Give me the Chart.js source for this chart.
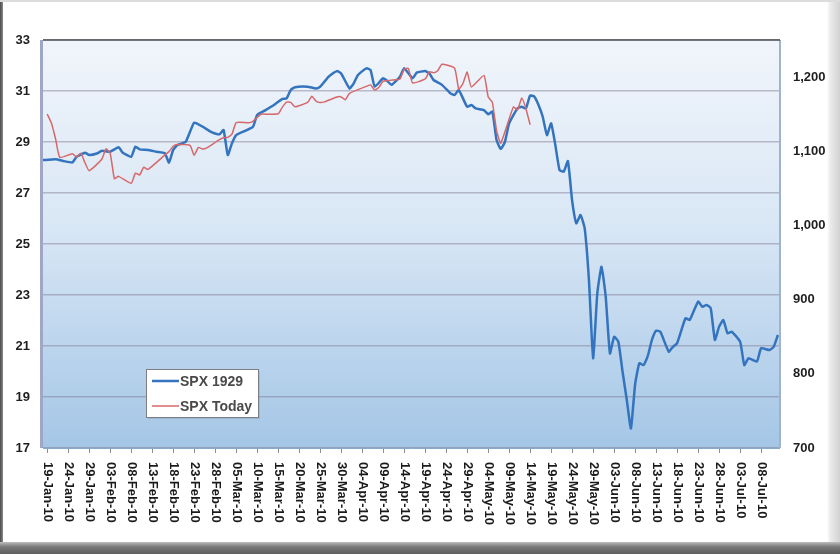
<!DOCTYPE html>
<html>
<head>
<meta charset="utf-8">
<script src="https://cdn.jsdelivr.net/npm/chart.js@4.4.1/dist/chart.umd.min.js"></script>
<style>
html,body{margin:0;padding:0;background:#fff;}
#frame{position:relative;width:840px;height:554px;overflow:hidden;
  background:linear-gradient(to right,#ffffff 0,#ffffff 827px,#ececec 830px,#d2d2d2 840px);}
#leftEdge{position:absolute;left:0;top:0;width:3px;height:554px;background:linear-gradient(to right,#4a4a4a,#8a8a8a);}
#topEdge{position:absolute;left:0;top:0;width:840px;height:2px;background:#dcdcdc;}
#bottomEdge{position:absolute;left:0;top:542px;width:840px;height:12px;background:linear-gradient(#bdbdbd,#7a7a7a 40%,#5e5e5e);}
canvas{position:absolute;left:0;top:0;}
</style>
</head>
<body>
<div id="frame">
  <canvas id="c" width="840" height="554"></canvas>
  <div id="leftEdge"></div><div id="topEdge"></div><div id="bottomEdge"></div>
</div>
<script>
// ---------- DATA ----------
const seriesNames = ['SPX 1929', 'SPX Today'];

// x-axis tick labels (every 5 calendar days)
const tickLabels = ['19-Jan-10','24-Jan-10','29-Jan-10','03-Feb-10','08-Feb-10','13-Feb-10','18-Feb-10',
  '23-Feb-10','28-Feb-10','05-Mar-10','10-Mar-10','15-Mar-10','20-Mar-10','25-Mar-10','30-Mar-10',
  '04-Apr-10','09-Apr-10','14-Apr-10','19-Apr-10','24-Apr-10','29-Apr-10','04-May-10','09-May-10',
  '14-May-10','19-May-10','24-May-10','29-May-10','03-Jun-10','08-Jun-10','13-Jun-10','18-Jun-10',
  '23-Jun-10','28-Jun-10','03-Jul-10','08-Jul-10'];

const leftTicks = [17,19,21,23,25,27,29,31,33];
const rightTicks = [700,800,900,1000,1100,1200];

// SPX 1929 (left axis): day offset from 19-Jan-10 and index value
const day1929 = [-1,2,4,6,7,9,10,12,13,15,17,18,20,21,22,24,26,28,29,30,
  31,33,35,37,39,41,42,43,44,45,47,49,50,52,54,56,57,58,59,62,
  64,65,66,67,69,70,72,73,74,76,77,78,80,81,82,84,85,87,88,90,
  91,92,94,96,97,98,100,101,102,104,105,106,107,108,109,110,112,113,114,115,
  116,117,118,119,120,121,122,123,124,125,126,127,128,129,130,131,132,133,134,135,
  136,137,138,139,140,141,142,143,144,145,146,148,149,150,152,153,155,156,157,158,
  159,160,161,162,163,165,166,167,169,170,172,173,174];
const spx1929 = [28.29,28.32,28.25,28.20,28.42,28.58,28.49,28.56,28.66,28.62,28.79,28.58,28.42,28.82,28.71,28.69,28.62,28.56,28.19,28.69,
  28.88,29.01,29.76,29.60,29.40,29.30,29.47,28.49,28.95,29.27,29.43,29.60,30.06,30.25,30.45,30.69,30.71,31.04,31.15,31.17,
  31.10,31.17,31.36,31.56,31.78,31.69,31.10,31.30,31.63,31.89,31.82,31.17,31.50,31.39,31.24,31.56,31.89,31.50,31.72,31.78,
  31.69,31.43,31.24,30.91,30.84,31.04,30.38,30.45,30.32,30.25,30.09,30.19,29.08,28.73,29.01,29.73,30.32,30.38,30.32,30.82,
  30.78,30.45,29.99,29.27,29.73,28.88,27.90,27.84,28.25,26.70,25.81,26.14,25.60,23.59,20.52,23.07,24.11,22.93,20.71,21.36,
  21.17,20.00,18.90,17.77,19.50,20.32,20.25,20.60,21.24,21.60,21.56,20.78,20.97,21.11,22.09,22.02,22.74,22.54,22.61,22.48,
  21.24,21.76,22.02,21.50,21.56,21.17,20.25,20.52,20.39,20.91,20.84,20.97,21.43];

// SPX Today (right axis): 2010 trading dates and closes
const datesToday = ['01-19','01-20','01-21','01-22','01-25','01-26','01-27','01-28','01-29',
  '02-01','02-02','02-03','02-04','02-05','02-08','02-09','02-10','02-11','02-12','02-16','02-17','02-18','02-19',
  '02-22','02-23','02-24','02-25','02-26','03-01','03-02','03-03','03-04','03-05','03-08','03-09','03-10','03-11',
  '03-12','03-15','03-16','03-17','03-18','03-19','03-22','03-23','03-24','03-25','03-26','03-29','03-30','03-31',
  '04-01','04-05','04-06','04-07','04-08','04-09','04-12','04-13','04-14','04-15','04-16','04-19','04-20','04-21',
  '04-22','04-23','04-26','04-27','04-28','04-29','04-30','05-03','05-04','05-05','05-06','05-07','05-10','05-11',
  '05-12','05-13','05-14'];
const spxToday = [1150.23,1138.04,1116.48,1091.76,1096.78,1092.17,1097.50,1084.53,1073.87,
  1089.19,1103.32,1097.28,1063.11,1066.19,1056.74,1070.52,1068.13,1078.47,1075.51,1094.87,1099.51,1106.75,1109.17,
  1108.01,1094.60,1105.24,1102.94,1104.49,1115.71,1118.31,1118.79,1122.97,1138.70,1138.50,1140.45,1145.61,1150.24,
  1149.99,1150.51,1159.46,1166.21,1165.83,1159.90,1165.81,1174.17,1167.72,1165.73,1166.59,1173.22,1173.27,1169.43,
  1178.10,1187.44,1189.44,1182.45,1186.44,1194.37,1196.48,1197.30,1210.65,1211.67,1192.13,1197.52,1207.17,1205.94,
  1208.67,1217.28,1212.05,1183.71,1191.36,1206.78,1186.69,1202.26,1173.60,1165.87,1128.15,1110.88,1159.73,1155.79,
  1171.67,1157.44,1135.68];

// ---------- helpers ----------
const MONTHS = {Jan:0,Feb:1,Mar:2,Apr:3,May:4,Jun:5,Jul:6,Aug:7,Sep:8,Oct:9,Nov:10,Dec:11};
const BASE = Date.UTC(2010,0,19);
function offsetFromLabel(lab){ const p = lab.split('-'); return (Date.UTC(2000+ +p[2], MONTHS[p[1]], +p[0]) - BASE)/86400000; }
function offsetFromMD(md){ const p = md.split('-'); return (Date.UTC(2010, +p[0]-1, +p[1]) - BASE)/86400000; }
const tickDays = tickLabels.map(offsetFromLabel);
const fmt = v => String(v).replace(/\B(?=(\d{3})+(?!\d))/g, ',');

const COLORS = {blue:'#3474bf', red:'#d7686a'};
const FONT = '"Liberation Sans", Arial, sans-serif';

// ---------- plugins ----------
const plotBg = {
  id:'plotBg',
  beforeDraw(chart){
    const {ctx, chartArea:a} = chart;
    const g = ctx.createLinearGradient(0,a.top,0,a.bottom);
    g.addColorStop(0,'#f1f5fb'); g.addColorStop(0.45,'#d9e7f5'); g.addColorStop(1,'#a4c6e6');
    ctx.save(); ctx.fillStyle = g; ctx.fillRect(a.left,a.top,a.right-a.left,a.bottom-a.top); ctx.restore();
  },
  beforeDatasetsDraw(chart){
    const {ctx, chartArea:a} = chart;
    ctx.save();
    ctx.strokeStyle = '#9fa6c6'; ctx.lineWidth = 3;
    ctx.beginPath(); ctx.moveTo(a.left-1.5,a.top); ctx.lineTo(a.left-1.5,a.bottom); ctx.stroke();
    ctx.strokeStyle = '#9fb3cc'; ctx.lineWidth = 2;
    ctx.beginPath(); ctx.moveTo(a.right,a.top); ctx.lineTo(a.right,a.bottom); ctx.stroke();
    ctx.strokeStyle = '#88aacb'; ctx.lineWidth = 1;
    ctx.beginPath(); ctx.moveTo(a.left,a.bottom+0.5); ctx.lineTo(a.right,a.bottom+0.5); ctx.stroke();
    ctx.strokeStyle = '#111'; ctx.lineWidth = 1.2;
    ctx.beginPath(); ctx.moveTo(a.left,a.top); ctx.lineTo(a.right,a.top); ctx.stroke();
    ctx.restore();
  }
};

const xLabels = {
  id:'xLabels',
  afterDraw(chart){
    const {ctx} = chart; const xs = chart.scales.x;
    ctx.save();
    ctx.font = 'bold 13px ' + FONT; ctx.fillStyle = '#1a1a1a';
    ctx.textAlign = 'left'; ctx.textBaseline = 'middle';
    tickLabels.forEach((lab,i)=>{
      const px = xs.getPixelForValue(tickDays[i]);
      ctx.save(); ctx.translate(px, xs.top + 14); ctx.rotate(Math.PI/2); ctx.fillText(lab,0,0); ctx.restore();
    });
    ctx.restore();
  }
};

const boxLegend = {
  id:'boxLegend',
  afterDraw(chart){
    const {ctx} = chart;
    const x = 146, y = 369, w = 112, h = 48;
    ctx.save();
    ctx.fillStyle = 'rgba(120,130,150,0.25)'; ctx.fillRect(x+2,y+2,w,h);
    ctx.fillStyle = '#ffffff'; ctx.fillRect(x,y,w,h);
    ctx.strokeStyle = '#7d7d85'; ctx.lineWidth = 1; ctx.strokeRect(x+0.5,y+0.5,w,h);
    ctx.font = 'bold 14px ' + FONT; ctx.textBaseline = 'middle'; ctx.textAlign = 'left';
    chart.data.datasets.forEach((ds,i)=>{
      const ly = y + 12 + i*25;
      ctx.strokeStyle = ds.borderColor; ctx.lineWidth = i===0 ? 2.5 : 1.5;
      ctx.beginPath(); ctx.moveTo(x+6,ly); ctx.lineTo(x+33,ly); ctx.stroke();
      ctx.fillStyle = '#4a4a4a'; ctx.fillText(ds.label, x+34, ly+1);
    });
    ctx.restore();
  }
};

// ---------- chart ----------
Chart.defaults.font.family = FONT;
new Chart(document.getElementById('c'), {
  type:'line',
  data:{
    datasets:[
      { label:seriesNames[0], data:day1929.map((d,i)=>({x:d,y:spx1929[i]})), yAxisID:'y',
        borderColor:COLORS.blue, borderWidth:2.5, pointRadius:0, tension:0.15, order:1 },
      { label:seriesNames[1], data:datesToday.map((d,i)=>({x:offsetFromMD(d),y:spxToday[i]})), yAxisID:'y2',
        borderColor:COLORS.red, borderWidth:1.5, pointRadius:0, tension:0.15, order:0 }
    ]
  },
  options:{
    responsive:false, animation:false,
    layout:{padding:{top:40,left:0,right:0,bottom:0}},
    plugins:{legend:{display:false}, tooltip:{enabled:false}},
    scales:{
      x:{ type:'linear', min:-1, max:174.5,
          afterBuildTicks:s=>{ s.ticks = tickDays.map(v=>({value:v})); },
          ticks:{display:false, autoSkip:false},
          grid:{display:true, drawOnChartArea:false, drawTicks:true, tickLength:5, color:'#8c8c8c', lineWidth:1},
          border:{display:false},
          afterFit:s=>{ s.height = 106; } },
      y:{ position:'left', min:17, max:33,
          afterBuildTicks:s=>{ s.ticks = leftTicks.map(v=>({value:v})); },
          ticks:{font:{size:13, weight:'bold'}, color:'#1e1e1e', padding:13},
          grid:{color:'rgba(125,118,145,0.45)', lineWidth:1.5, drawTicks:false},
          border:{display:false},
          afterFit:s=>{ s.width = 43; } },
      y2:{ position:'right', min:700, max:1250,
          afterBuildTicks:s=>{ s.ticks = rightTicks.map(v=>({value:v})); },
          ticks:{font:{size:13, weight:'bold'}, color:'#1e1e1e', padding:13, callback:v=>fmt(v)},
          grid:{display:false, drawTicks:false},
          border:{display:false},
          afterFit:s=>{ s.width = 60; } }
    }
  },
  plugins:[plotBg, xLabels, boxLegend]
});
</script>
</body>
</html>
